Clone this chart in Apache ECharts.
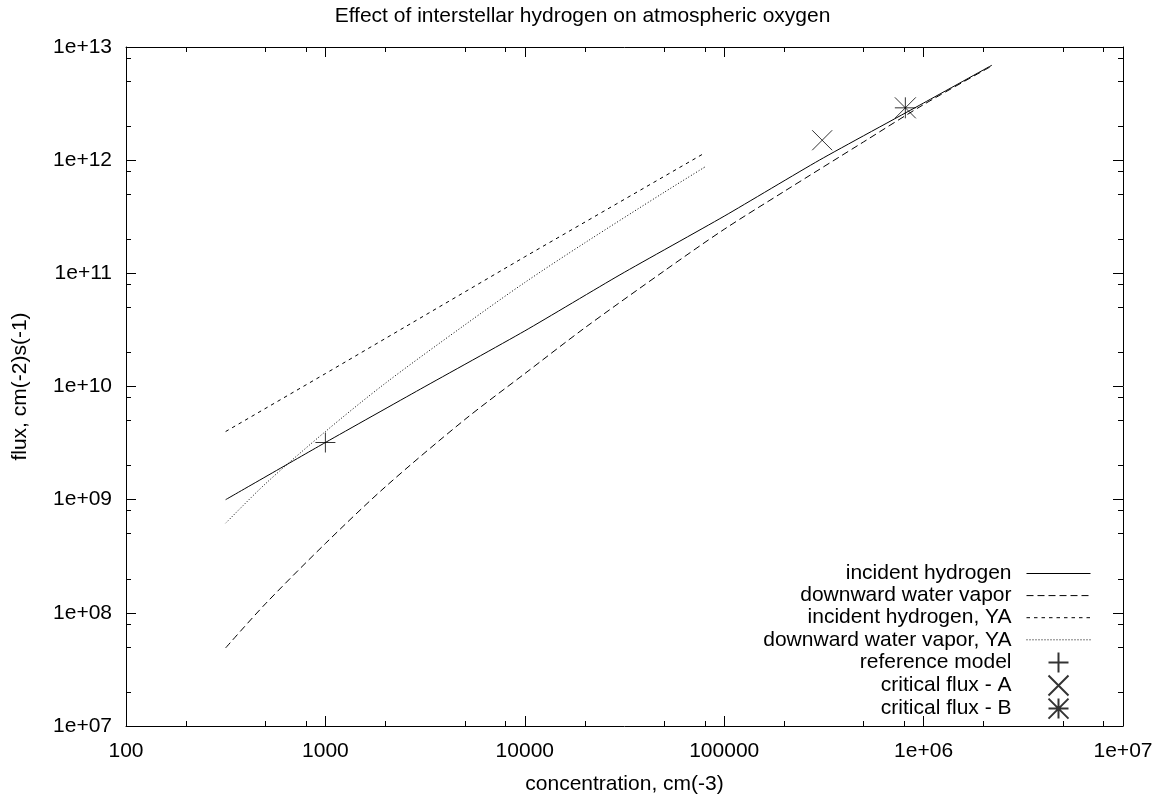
<!DOCTYPE html>
<html>
<head>
<meta charset="utf-8">
<title>Effect of interstellar hydrogen on atmospheric oxygen</title>
<script src="https://cdn.jsdelivr.net/npm/echarts@6/dist/echarts.min.js"></script>
<style>
  html, body { margin: 0; padding: 0; background: #fff; }
  #main { width: 1165px; height: 798px; }
</style>
</head>
<body>
<div id="main"></div>
<script>
// values (log-log)
const concHydrogen = [316, 1000, 3000, 10000, 30000, 100000, 300000, 1000000, 2200000];
const fluxHydrogen = [1.0e9, 3.2e9, 9.5e9, 3.1e10, 9.7e10, 3.2e11, 1.0e12, 3.2e12, 6.9e12];

const concVapor = [316, 500, 1000, 2000, 5000, 10000, 20000, 50000, 100000, 200000, 500000, 1000000, 2200000];
const fluxVapor = [4.9e7, 1.2e8, 4.1e8, 1.3e9, 5.1e9, 1.3e10, 3.3e10, 1.05e11, 2.45e11, 5.3e11, 1.45e12, 3.1e12, 6.8e12];

const concHydrogenYA = [316, 1000, 10000, 78000];
const fluxHydrogenYA = [4.0e9, 1.3e10, 1.4e11, 1.13e12];

const concVaporYA = [316, 500, 1000, 2000, 5000, 10000, 20000, 50000, 80000];
const fluxVaporYA = [6.2e8, 1.38e9, 4.0e9, 1.07e10, 3.5e10, 8.3e10, 1.86e11, 5.2e11, 8.7e11];

const refModel = [[1000, 3.2e9]];
const criticalA = [[310000, 1.5e12]];
const criticalB = [[810000, 2.9e12]];

const xMajor = [100, 1000, 10000, 100000, 1000000, 10000000];
const xTickLabels = ['100', '1000', '10000', '100000', '1e+06', '1e+07'];
const yMajor = [1e7, 1e8, 1e9, 1e10, 1e11, 1e12, 1e13];
const yTickLabels = ['1e+07', '1e+08', '1e+09', '1e+10', '1e+11', '1e+12', '1e+13'];

const FONT = 'Liberation Sans';
const FS = 21;

function minorOf(major) {
  let out = [];
  for (let i = 0; i < major.length - 1; i++) {
    [2, 5, 8].forEach(m => out.push(major[i] * m));
  }
  return out;
}

function pair(xs, ys) {
  return xs.map((v, i) => [v, ys[i]]);
}

function makeAxis(pos, min, max, ticks, len, showLine, labels) {
  return {
    type: 'log',
    logBase: 10,
    min: min,
    max: max,
    position: pos,
    axisLine: { show: showLine, onZero: false, lineStyle: { color: '#000', width: 1 } },
    axisTick: { show: true, inside: true, length: len, customValues: ticks, lineStyle: { color: '#000', width: 1 } },
    axisLabel: labels ? {
      show: true,
      customValues: ticks,
      color: '#000',
      fontFamily: FONT,
      fontSize: FS,
      margin: 15,
      formatter: function (v) {
        let idx = ticks.findIndex(t => Math.abs(Math.log10(t) - Math.log10(v)) < 1e-6);
        return idx >= 0 ? labels[idx] : '';
      }
    } : { show: false },
    splitLine: { show: false },
    minorTick: { show: false },
    minorSplitLine: { show: false }
  };
}

const chart = echarts.init(document.getElementById('main'), null, { renderer: 'canvas' });

let xAxes = [
  makeAxis('bottom', 100, 1e7, xMajor, 10, true, xTickLabels),
  makeAxis('bottom', 100, 1e7, minorOf(xMajor), 5, false, null),
  makeAxis('top', 100, 1e7, xMajor, 10, true, null),
  makeAxis('top', 100, 1e7, minorOf(xMajor), 5, false, null)
];
Object.assign(xAxes[0], {
  name: 'concentration, cm(-3)',
  nameLocation: 'middle',
  nameGap: 48,
  nameTextStyle: { color: '#000', fontFamily: FONT, fontSize: FS }
});

let yAxes = [
  makeAxis('left', 1e7, 1e13, yMajor, 10, true, yTickLabels),
  makeAxis('left', 1e7, 1e13, minorOf(yMajor), 5, false, null),
  makeAxis('right', 1e7, 1e13, yMajor, 10, true, null),
  makeAxis('right', 1e7, 1e13, minorOf(yMajor), 5, false, null)
];
yAxes[0].axisLabel.margin = 14;
Object.assign(yAxes[0], {
  name: 'flux, cm(-2)s(-1)',
  nameLocation: 'middle',
  nameGap: 95,
  nameRotate: 90,
  nameTextStyle: { color: '#000', fontFamily: FONT, fontSize: FS }
});

function lineSeries(name, data, type, smooth) {
  return {
    name: name,
    type: 'line',
    xAxisIndex: 0,
    yAxisIndex: 0,
    data: data,
    symbol: 'none',
    smooth: smooth,
    lineStyle: { color: '#000', width: 1, type: type },
    itemStyle: { color: 'transparent', borderWidth: 0 },
    z: 3
  };
}

function markSeries(name, data, path, size) {
  return {
    name: name,
    type: 'scatter',
    xAxisIndex: 0,
    yAxisIndex: 0,
    data: data,
    symbol: path,
    symbolSize: size,
    symbolKeepAspect: true,
    itemStyle: { color: 'transparent', borderColor: '#000', borderWidth: 1 },
    z: 4
  };
}

const PLUS = 'path://M10,0L10,20M0,10L20,10';
const CROSS = 'path://M0,0L20,20M0,20L20,0';
const STAR = 'path://M10,0L10,20M0,10L20,10M0,0L20,20M0,20L20,0';

const option = {
  animation: false,
  backgroundColor: '#fff',
  textStyle: { fontFamily: FONT },
  title: {
    text: 'Effect of interstellar hydrogen on atmospheric oxygen',
    left: 'center',
    top: 1,
    textStyle: { color: '#000', fontFamily: FONT, fontSize: FS, fontWeight: 'normal' }
  },
  grid: { left: 126, right: 42, top: 47, bottom: 72, containLabel: false, outerBoundsMode: 'none' },
  legend: {
    orient: 'vertical',
    right: 69,
    top: 558,
    align: 'right',
    itemWidth: 64,
    itemHeight: 20,
    itemGap: 1.1,
    selectedMode: false,
    lineStyle: { width: 1 },
    textStyle: { color: '#000', fontFamily: FONT, fontSize: FS, lineHeight: 20, padding: [0, 10, 0, 0] },
    data: ['incident hydrogen', 'downward water vapor', 'incident hydrogen, YA',
      'downward water vapor, YA', 'reference model', 'critical flux - A', 'critical flux - B']
  },
  xAxis: xAxes,
  yAxis: yAxes,
  series: [
    lineSeries('incident hydrogen', pair(concHydrogen, fluxHydrogen), 'solid', 0.2),
    lineSeries('downward water vapor', pair(concVapor, fluxVapor), [7, 4], 0.3),
    lineSeries('incident hydrogen, YA', pair(concHydrogenYA, fluxHydrogenYA), [3.5, 4], false),
    lineSeries('downward water vapor, YA', pair(concVaporYA, fluxVaporYA), [1, 2], 0.3),
    markSeries('reference model', refModel, PLUS, 20),
    markSeries('critical flux - A', criticalA, CROSS, 20),
    markSeries('critical flux - B', criticalB, STAR, 21)
  ]
};

chart.setOption(option);
</script>
</body>
</html>
